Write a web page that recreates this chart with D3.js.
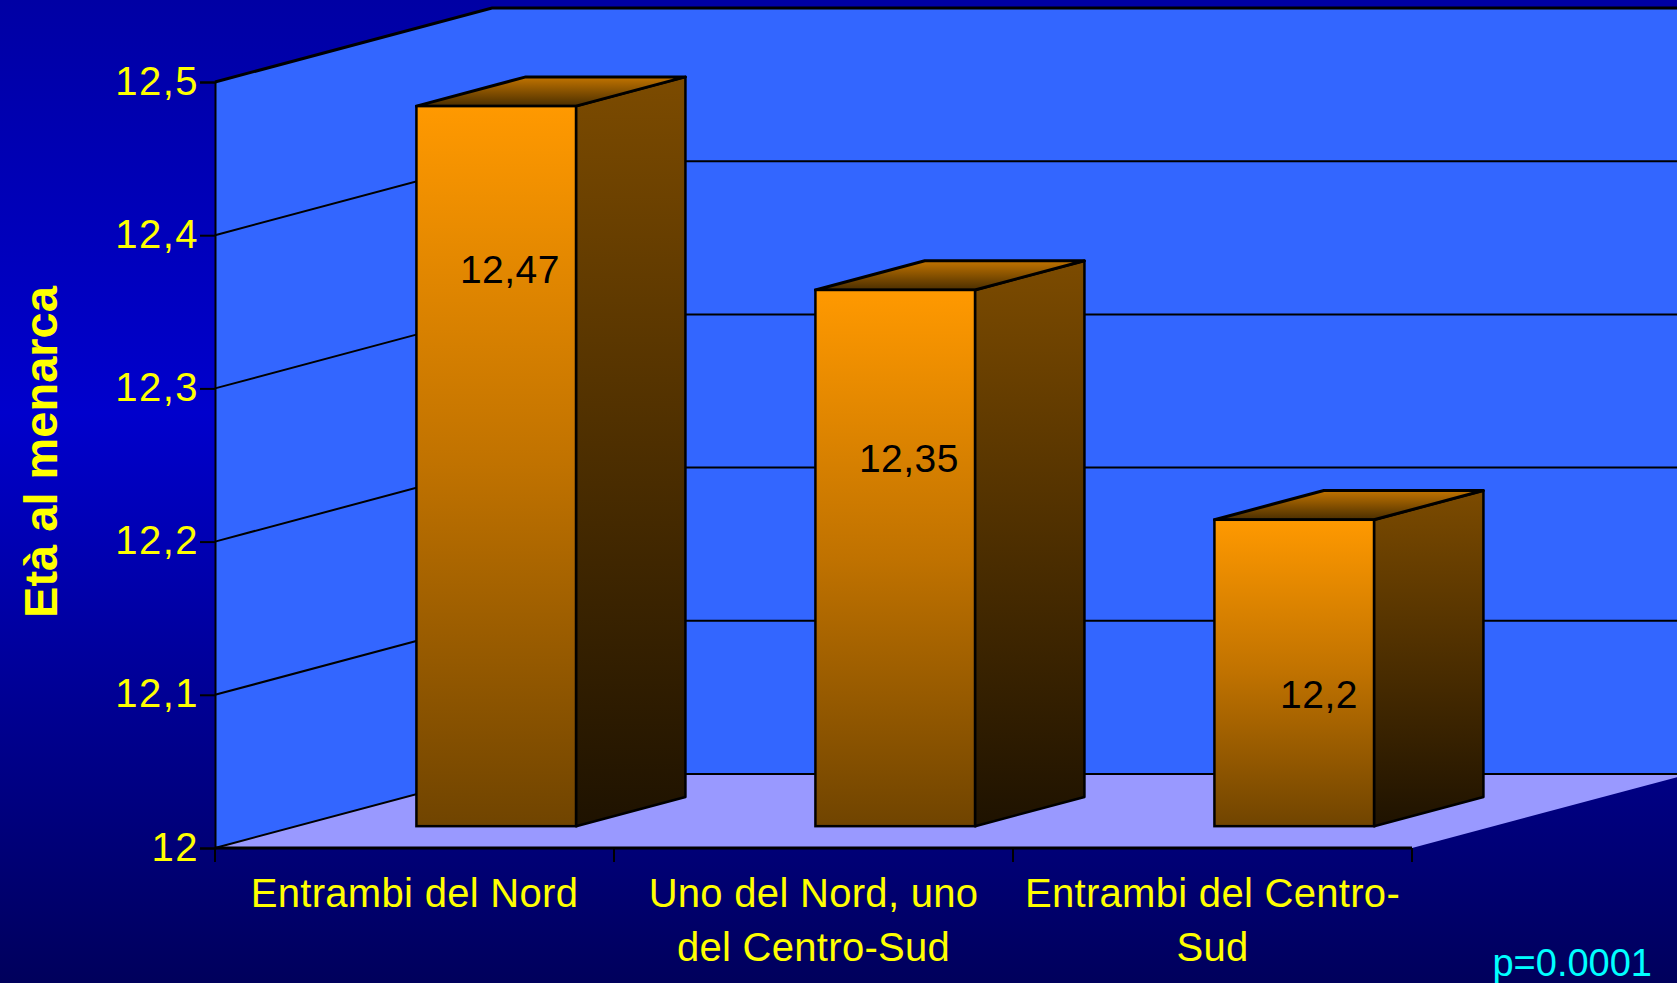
<!DOCTYPE html>
<html>
<head>
<meta charset="utf-8">
<script src="https://cdn.jsdelivr.net/npm/d3@7"></script>
<style>
  body { margin: 0; overflow: hidden; background: #000080; }
  text { font-family: "Liberation Sans", Arial, sans-serif; }
</style>
</head>
<body>
<div id="chart"></div>
<script>
// data
var categories = ["Entrambi del Nord", "Uno del Nord, uno del Centro-Sud", "Entrambi del Centro-Sud"];
var categoryLines = [["Entrambi del Nord"], ["Uno del Nord, uno", "del Centro-Sud"], ["Entrambi del Centro-", "Sud"]];
var values = [12.47, 12.35, 12.2];
var valueLabels = ["12,47", "12,35", "12,2"];
var yTicks = [12, 12.1, 12.2, 12.3, 12.4, 12.5];
var yTickLabels = ["12", "12,1", "12,2", "12,3", "12,4", "12,5"];
var yTitle = "Età al menarca";
var note = "p=0.0001";

var W = 1677, H = 983;
var x0 = 215, x1 = 1412;
var DX = 277, DY = 74;          // depth of the 3d box
var d1 = 0.295, d2 = 0.69;      // bar position inside the depth

var x = d3.scaleBand().domain(categories).range([x0, x1]).padding(0);
var y = d3.scaleLinear().domain([12, 12.5]).range([848, 82]);
var bw = x.bandwidth();
var barW = bw * 0.4;

var svg = d3.select("#chart").append("svg")
    .attr("width", W)
    .attr("height", H);

var defs = svg.append("defs");

function grad(id, stops) {
    var g = defs.append("linearGradient").attr("id", id)
        .attr("x1", 0).attr("y1", 0).attr("x2", 0).attr("y2", 1);
    stops.forEach(function (s) {
        g.append("stop").attr("offset", s[0]).attr("stop-color", s[1]);
    });
}
grad("bg", [[0, "#0000a4"], [0.42, "#0000cc"], [1, "#00005c"]]);
grad("front", [[0, "#ff9900"], [0.5, "#c07200"], [1, "#704400"]]);
grad("side", [[0, "#7c4b00"], [1, "#1e1200"]]);
grad("top", [[0, "#c27400"], [1, "#4a2e00"]]);

svg.append("rect")
    .attr("width", W).attr("height", H)
    .attr("fill", "url(#bg)");

var yTop = y(12.5), yBot = y(12);

// side wall
svg.append("polygon")
    .attr("points", [[x0, yTop], [x0 + DX, yTop - DY], [x0 + DX, yBot - DY], [x0, yBot]].join(" "))
    .attr("fill", "#3366ff");

// back wall
svg.append("rect")
    .attr("x", x0 + DX).attr("y", yTop - DY)
    .attr("width", W).attr("height", yBot - yTop)
    .attr("fill", "#3366ff");

// floor
svg.append("polygon")
    .attr("points", [[x0, yBot], [x1, yBot], [x1 + DX, yBot - DY], [x0 + DX, yBot - DY]].join(" "))
    .attr("fill", "#9999ff");

// gridlines
svg.selectAll(".grid")
    .data(yTicks)
    .enter().append("path")
    .attr("class", "grid")
    .attr("d", function (d) {
        var yy = y(d);
        return "M" + x0 + "," + yy + "L" + (x0 + DX) + "," + (yy - DY) + "L" + (W + 20) + "," + (yy - DY);
    })
    .attr("fill", "none")
    .attr("stroke", "#000")
    .attr("stroke-width", function (d) { return d == 12.5 ? 3 : 2; });

// y axis
var yAxis = svg.append("g")
    .attr("transform", "translate(" + x0 + ",0)")
    .call(d3.axisLeft(y).tickValues(yTicks).tickSize(15).tickPadding(1)
        .tickFormat(function (d, i) { return yTickLabels[i]; }));
yAxis.select(".domain").attr("stroke", "#000").attr("stroke-width", 2);
yAxis.selectAll(".tick line").attr("stroke", "#000").attr("stroke-width", 2);
yAxis.selectAll(".tick text")
    .attr("fill", "#ffff00")
    .style("font-family", "'Liberation Sans', Arial, sans-serif")
    .style("font-size", "40px")
    .style("letter-spacing", "1.5px")
    .attr("dy", "0.3em");

// front axis line
svg.append("line")
    .attr("x1", x0).attr("x2", x1)
    .attr("y1", yBot).attr("y2", yBot)
    .attr("stroke", "#000").attr("stroke-width", 3);

// category ticks at band edges
var edges = categories.map(function (c) { return x(c); }).concat([x1]);
svg.selectAll(".ctick")
    .data(edges)
    .enter().append("line")
    .attr("x1", function (d) { return d; })
    .attr("x2", function (d) { return d; })
    .attr("y1", yBot).attr("y2", yBot + 14)
    .attr("stroke", "#000").attr("stroke-width", 2);

// bars
var bx = DX * d1, by = DY * d1;
var ddx = DX * (d2 - d1), ddy = DY * (d2 - d1);

var bars = svg.selectAll(".bar")
    .data(values)
    .enter().append("g")
    .attr("class", "bar");

bars.each(function (v, i) {
    var g = d3.select(this);
    var cx = x(categories[i]) + bw / 2;
    var xl = cx - barW / 2 + bx, xr = cx + barW / 2 + bx;
    var yt = y(v) - by, yb = y(12) - by;

    g.append("polygon")
        .attr("points", [[xr, yt], [xr + ddx, yt - ddy], [xr + ddx, yb - ddy], [xr, yb]].join(" "))
        .attr("fill", "url(#side)")
        .attr("stroke", "#000").attr("stroke-width", 2.5).attr("stroke-linejoin", "round");

    g.append("polygon")
        .attr("points", [[xl, yt], [xl + ddx, yt - ddy], [xr + ddx, yt - ddy], [xr, yt]].join(" "))
        .attr("fill", "url(#top)")
        .attr("stroke", "#000").attr("stroke-width", 3).attr("stroke-linejoin", "round");

    g.append("rect")
        .attr("x", xl).attr("y", yt)
        .attr("width", barW).attr("height", yb - yt)
        .attr("fill", "url(#front)")
        .attr("stroke", "#000").attr("stroke-width", 2.5);

    // label sits a bit lower for shorter bars, as in the source
    g.append("text")
        .attr("x", xr - 16)
        .attr("y", y(v) + 155 + (12.47 - v) * 44)
        .attr("text-anchor", "end")
        .attr("fill", "#000")
        .style("font-size", "39px")
        .style("letter-spacing", "0.5px")
        .text(valueLabels[i]);
});

// category labels
svg.selectAll(".clabel")
    .data(categoryLines)
    .enter().append("text")
    .attr("class", "clabel")
    .attr("text-anchor", "middle")
    .attr("fill", "#ffff00")
    .style("font-size", "40px")
    .style("letter-spacing", "0.3px")
    .each(function (lines, i) {
        var t = d3.select(this);
        var cx = x(categories[i]) + bw / 2;
        lines.forEach(function (l, j) {
            t.append("tspan")
                .attr("x", cx)
                .attr("y", 907 + j * 54)
                .text(l);
        });
    });

// y title
svg.append("text")
    .attr("transform", "translate(57,452) rotate(-90)")
    .attr("text-anchor", "middle")
    .attr("fill", "#ffff00")
    .style("font-size", "47px")
    .style("font-weight", "bold")
    .text(yTitle);

// p value
svg.append("text")
    .attr("x", 1652).attr("y", 976)
    .attr("text-anchor", "end")
    .attr("fill", "#00ffff")
    .style("font-size", "38px")
    .text(note);
</script>
</body>
</html>
